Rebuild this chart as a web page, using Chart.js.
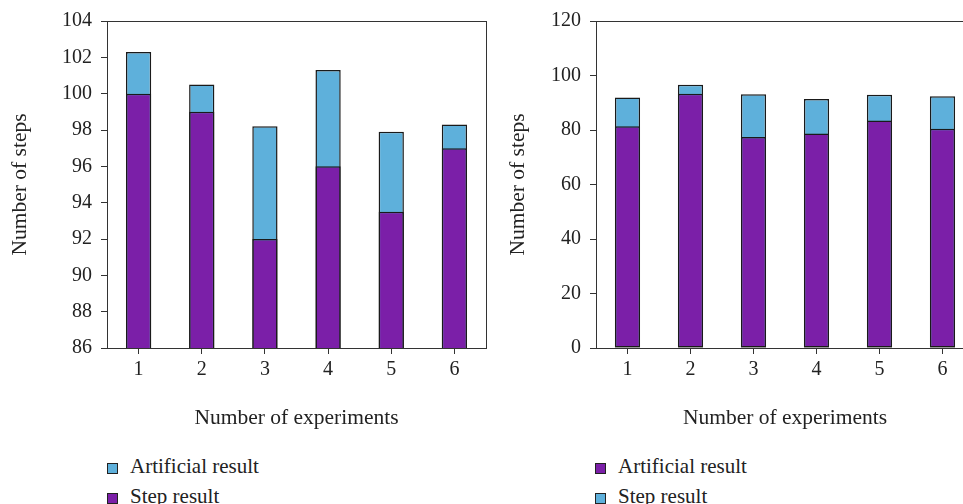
<!DOCTYPE html>
<html>
<head>
<meta charset="utf-8">
<script src="https://cdn.jsdelivr.net/npm/chart.js@4/dist/chart.umd.min.js"></script>
<style>
    html, body { margin: 0; padding: 0; width: 963px; height: 504px; overflow: hidden; background: #fff; }
    .wrap { position: absolute; top: 0; }
    #leftWrap { left: 0; width: 500px; height: 440px; }
    #rightWrap { left: 500px; width: 480px; height: 440px; }
    .legend { position: absolute; top: 451px; font-family: "Liberation Serif", serif; font-size: 21px; color: #222; }
    .legend .item { height: 30px; line-height: 30px; white-space: nowrap; }
    .legend .box { display: inline-block; width: 9px; height: 9px; border: 1px solid #222; margin-right: 12px; vertical-align: -1px; }
</style>
</head>
<body>
<div class="wrap" id="leftWrap"><canvas id="leftChart" width="500" height="440"></canvas></div>
<div class="wrap" id="rightWrap"><canvas id="rightChart" width="480" height="440"></canvas></div>
<div class="legend" id="leftLegend" style="left:107px"></div>
<div class="legend" id="rightLegend" style="left:595px"></div>

<script>
/* global Chart */

// Categories (experiment number).
var experiments = ['1', '2', '3', '4', '5', '6'];

// Left panel.
var leftArtificial = [102.3, 100.5, 98.2, 101.3, 97.9, 98.3];
var leftStep = [100, 99, 92, 96, 93.5, 97];

// Right panel.
var rightArtificial = [81.4, 93.3, 77.4, 78.7, 83.5, 80.5];
var rightStep = [91.9, 96.6, 93.1, 91.4, 92.9, 92.4];

var PURPLE = '#7b1fa8';
var BLUE = '#5eb0db';
var INK = '#222';
var FONT = '"Liberation Serif", serif';

// Draws the box around the plot area.
var frame = {
    id: 'frame',
    afterDraw: function (chart) {
        var a = chart.chartArea, ctx = chart.ctx;
        ctx.save();
        ctx.strokeStyle = '#333';
        ctx.lineWidth = 1;
        ctx.strokeRect(Math.round(a.left) + 0.5, Math.round(a.top) + 0.5,
            Math.round(a.right - a.left), Math.round(a.bottom - a.top));
        ctx.restore();
    }
};

function bar(label, data, color) {
    return {
        label: label,
        data: data,
        backgroundColor: color,
        borderColor: '#1a1a1a',
        borderWidth: 1.5,
        borderSkipped: false,
        grouped: false,
        barPercentage: 0.4,
        categoryPercentage: 1
    };
}

function makeChart(el, datasets, yMin, yMax, yStep, yWidth, padRight, yTitlePad) {
    return new Chart(el, {
        type: 'bar',
        data: { labels: experiments, datasets: datasets },
        options: {
            responsive: false,
            animation: false,
            layout: { padding: { top: 21, right: padRight, left: 0, bottom: 0 } },
            plugins: { legend: { display: false }, tooltip: { enabled: false } },
            scales: {
                x: {
                    grid: { offset: false, drawOnChartArea: false, tickLength: 6, color: '#333' },
                    border: { color: '#333' },
                    ticks: { color: INK, padding: 4, font: { family: FONT, size: 20 } },
                    title: {
                        display: true, text: 'Number of experiments', color: INK,
                        font: { family: FONT, size: 21.5 }, padding: { top: 0, bottom: 9 }
                    },
                    afterFit: function (s) { s.height = 92; }
                },
                y: {
                    min: yMin, max: yMax,
                    ticks: { stepSize: yStep, color: INK, padding: 9, font: { family: FONT, size: 20 } },
                    grid: { drawOnChartArea: false, tickLength: 6, color: '#333' },
                    border: { color: '#333' },
                    title: {
                        display: true, text: 'Number of steps', color: INK,
                        font: { family: FONT, size: 21.5 }, padding: { top: yTitlePad, bottom: 0 }
                    },
                    afterFit: function (s) { s.width = yWidth; }
                }
            }
        },
        plugins: [frame]
    });
}

function legend(el, items) {
    items.forEach(function (it) {
        var row = document.createElement('div');
        row.className = 'item';
        var box = document.createElement('span');
        box.className = 'box';
        box.style.background = it.color;
        row.appendChild(box);
        row.appendChild(document.createTextNode(it.label));
        el.appendChild(row);
    });
}

document.addEventListener('DOMContentLoaded', function () {
    // Left: purple drawn in front of blue (first dataset is painted last).
    makeChart(document.getElementById('leftChart'), [
        bar('Step result', leftStep, PURPLE),
        bar('Artificial result', leftArtificial, BLUE)
    ], 86, 104, 2, 107, 14, 7);

    // Right: colours swapped, purple still in front.
    makeChart(document.getElementById('rightChart'), [
        bar('Artificial result', rightArtificial, PURPLE),
        bar('Step result', rightStep, BLUE)
    ], 0, 120, 20, 96, 6, 5);

    legend(document.getElementById('leftLegend'), [
        { label: 'Artificial result', color: BLUE },
        { label: 'Step result', color: PURPLE }
    ]);
    legend(document.getElementById('rightLegend'), [
        { label: 'Artificial result', color: PURPLE },
        { label: 'Step result', color: BLUE }
    ]);
});
</script>
</body>
</html>
